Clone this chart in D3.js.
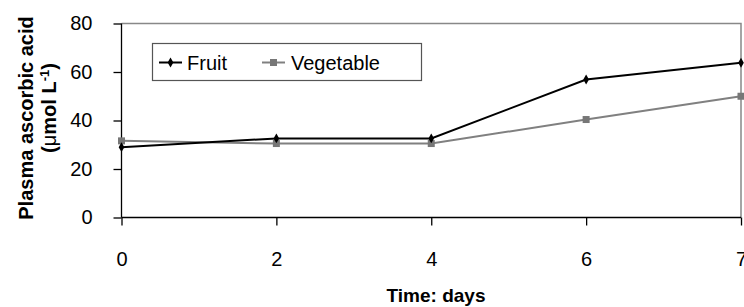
<!DOCTYPE html>
<html>
<head>
<meta charset="utf-8">
<script src="https://cdn.jsdelivr.net/npm/d3@7"></script>
<style>
  body { margin: 0; background: #fff; }
  svg { display: block; font-family: "Liberation Sans", Arial, sans-serif; }
</style>
</head>
<body>
<div id="chart"></div>
<script>
// data
const days = ['0', '2', '4', '6', '7'];
const fruit = [29.0, 32.6, 32.6, 56.9, 63.8];
const vegetable = [31.6, 30.5, 30.5, 40.4, 50.0];
const yTicks = [0, 20, 40, 60, 80];

const width = 744, height = 307;
const plotLeft = 121.5, plotRight = 741, plotTop = 23.5, plotBottom = 217.5;

const svg = d3.select('#chart').append('svg')
    .attr('width', width)
    .attr('height', height);

const x = d3.scalePoint().domain(days).range([plotLeft, plotRight]);
const y = d3.scaleLinear().domain([0, 80]).range([plotBottom, plotTop]);

// plot frame: grey top + right
svg.append('path')
    .attr('d', `M${plotLeft},${plotTop}H${plotRight}V${plotBottom}`)
    .attr('fill', 'none')
    .attr('stroke', '#888')
    .attr('stroke-width', 1.5);

// axes
const yAxis = d3.axisLeft(y).tickValues(yTicks).tickSize(8).tickPadding(21);
const gy = svg.append('g')
    .attr('transform', `translate(${plotLeft},0)`)
    .call(yAxis);

const xAxis = d3.axisBottom(x).tickSize(8).tickPadding(26);
const gx = svg.append('g')
    .attr('transform', `translate(0,${plotBottom})`)
    .call(xAxis);

[gx, gy].forEach(g => {
    g.select('.domain').attr('stroke', '#000').attr('stroke-width', 1.3);
    g.selectAll('.tick line').attr('stroke', '#000').attr('stroke-width', 1.3);
    g.selectAll('.tick text')
        .attr('fill', '#000')
        .style('font-size', '20px')
        .style('font-family', '"Liberation Sans", Arial, sans-serif');
});
gy.select('.domain').attr('d', `M0,${plotTop}V${plotBottom}`);
gx.select('.domain').attr('d', `M${plotLeft},0H${plotRight}`);

// lines
const line = d3.line().x((d, i) => x(days[i])).y(d => y(d));

svg.append('path')
    .datum(vegetable)
    .attr('d', line)
    .attr('fill', 'none')
    .attr('stroke', '#808080')
    .attr('stroke-width', 2);

svg.selectAll('rect.veg')
    .data(vegetable)
    .join('rect')
    .attr('class', 'veg')
    .attr('x', (d, i) => x(days[i]) - 3.5)
    .attr('y', d => y(d) - 3.5)
    .attr('width', 7)
    .attr('height', 7)
    .attr('fill', '#777');

svg.append('path')
    .datum(fruit)
    .attr('d', line)
    .attr('fill', 'none')
    .attr('stroke', '#000')
    .attr('stroke-width', 2);

const diamond = d3.symbol().type(d3.symbolDiamond).size(28);
svg.selectAll('path.fruit')
    .data(fruit)
    .join('path')
    .attr('class', 'fruit')
    .attr('d', diamond)
    .attr('transform', (d, i) => `translate(${x(days[i])},${y(d)})`)
    .attr('fill', '#000');

// legend
const lg = svg.append('g');
lg.append('rect')
    .attr('x', 152.5).attr('y', 43.5)
    .attr('width', 269).attr('height', 37)
    .attr('fill', '#fff')
    .attr('stroke', '#555')
    .attr('stroke-width', 1.2);

lg.append('line').attr('x1', 159).attr('x2', 182).attr('y1', 62.5).attr('y2', 62.5)
    .attr('stroke', '#000').attr('stroke-width', 2);
lg.append('path').attr('d', diamond).attr('transform', 'translate(170.5,62.5)').attr('fill', '#000');
lg.append('text').attr('x', 187).attr('y', 69.5).text('Fruit')
    .style('font-size', '20px');

lg.append('line').attr('x1', 262).attr('x2', 285).attr('y1', 62.5).attr('y2', 62.5)
    .attr('stroke', '#808080').attr('stroke-width', 2);
lg.append('rect').attr('x', 270).attr('y', 59).attr('width', 7).attr('height', 7).attr('fill', '#777');
lg.append('text').attr('x', 291).attr('y', 69.5).text('Vegetable')
    .style('font-size', '20px');

// axis titles
svg.append('text')
    .attr('x', 436).attr('y', 302)
    .attr('text-anchor', 'middle')
    .style('font-size', '19px')
    .style('font-weight', 'bold')
    .text('Time: days');

svg.append('text')
    .attr('transform', 'translate(33,118) rotate(-90)')
    .attr('text-anchor', 'middle')
    .style('font-size', '20px')
    .style('font-weight', 'bold')
    .text('Plasma ascorbic acid');

const t2 = svg.append('text')
    .attr('transform', 'translate(56,108) rotate(-90)')
    .attr('text-anchor', 'middle')
    .style('font-size', '20px')
    .style('font-weight', 'bold');
t2.append('tspan').text('(');
t2.append('tspan').style('font-weight', 'normal').text('μ');
t2.append('tspan').text('mol L');
t2.append('tspan').attr('dy', -7).style('font-size', '13px').text('-1');
t2.append('tspan').attr('dy', 7).text(')');
</script>
</body>
</html>
